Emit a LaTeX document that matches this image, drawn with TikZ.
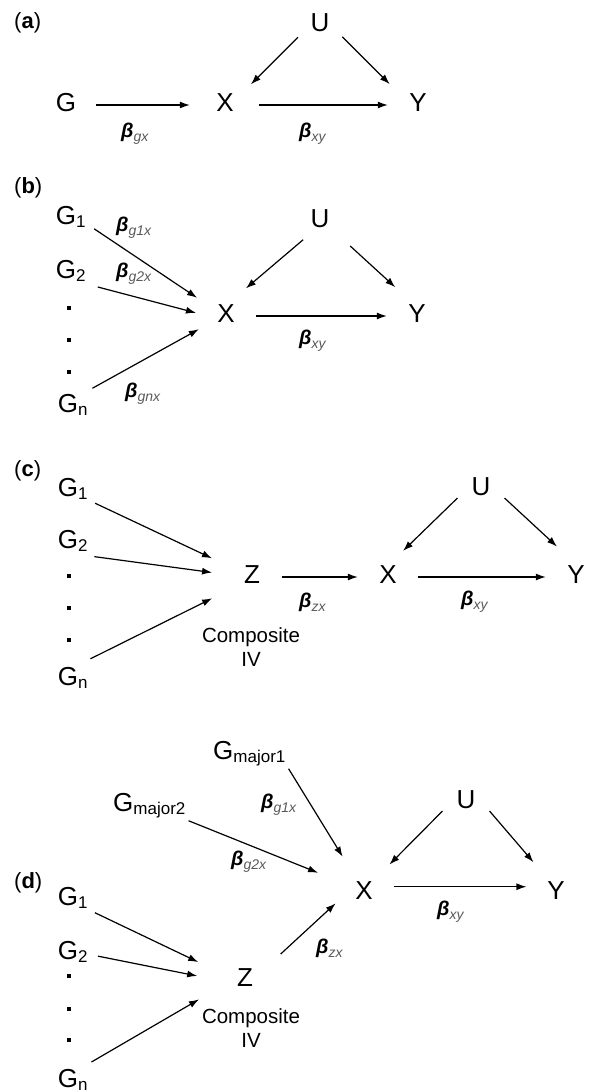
\documentclass[tikz,border=0pt]{standalone}
\usepackage{fontspec}
\setmainfont{Liberation Sans}
\usetikzlibrary{arrows.meta}
\newcommand{\varfont}{\fontsize{26}{30}\selectfont}
\newcommand{\idxfont}{\fontsize{17}{20}\selectfont}
\newcommand{\coeffont}{\fontsize{20}{24}\selectfont\itshape}
\newcommand{\tagfont}{\fontsize{22}{26}\selectfont}
\newcommand{\notefont}{\fontsize{20.5}{23.5}\selectfont}
\newcommand{\gidx}[1]{\rlap{\raisebox{-3pt}{\idxfont #1}}}
\newcommand{\gmaj}[1]{\raisebox{-3pt}{\idxfont #1}}
\newcommand{\coefb}[1]{{\bfseries β}\raisebox{-4pt}{\color{black!65}\fontsize{14}{16}\selectfont #1}}

\begin{document}
\begin{tikzpicture}[
  x=1pt, y=-1pt,
  var/.style={circle, minimum size=60pt, inner sep=0pt, font=\varfont,
              text height=18pt, text depth=5pt},
  conf/.style={var, minimum size=50pt},
  major/.style={rectangle, inner sep=3pt, font=\varfont, anchor=base west},
  coef/.style={anchor=base west, inner sep=0pt, font=\coeffont},
  tag/.style={anchor=base west, inner sep=0pt, font=\tagfont},
  note/.style={align=center, font=\notefont},
  arr/.style={draw, -{Latex[length=10pt,width=7pt]}, line width=1.2pt}
]
\useasboundingbox (0,0) rectangle (591,1092);

% (a)
\node[tag] (ta) at (14,28) {(\textbf{a})};
\node[conf] (aU) at (320,25) {U};
\node[var] (aG) at (66,105) {G};
\node[var] (aX) at (225,105) {X};
\node[var] (aY) at (418,105) {Y};
\node[coef] (aGX) at (121,137) {\coefb{gx}};
\node[coef] (aXY) at (299,137) {\coefb{xy}};
\draw[arr, shorten >=5pt] (aG) -- (aX);
\draw[arr, shorten <=4pt] (aX) -- (aY);
\draw[arr, shorten >=3pt] (aU.209) -- (aX.38);
\draw[arr, shorten >=5pt] (aU.-28) -- (aY.145);

% (b)
\node[tag] (tb) at (14,193) {(\textbf{b})};
\node[var] (bG1) at (66,218) {G\gidx{1}};
\node[var] (bG2) at (66,272) {G\gidx{2}};
\node[var] (bGn) at (68,406) {G\gidx{n}};
\node[var] (bX) at (226,316) {X};
\node[var] (bY) at (417,316) {Y};
\node[conf] (bU) at (320,221) {U};
\node[coef] (bG1X) at (116,231) {\coefb{g1x}};
\node[coef] (bG2X) at (116,277) {\coefb{g2x}};
\node[coef] (bGnX) at (125,397) {\coefb{gnx}};
\node[coef] (bXY) at (299,344) {\coefb{xy}};
\draw[arr, shorten >=4pt] (bG1.-21) -- (bX.148);
\draw[arr, shorten <=5pt] (bG2.-27) -- (bX.174);
\draw[arr] (bGn.36) -- (bX.-154);
\draw[arr] (bX) -- (bY);
\draw[arr, shorten >=4pt] (bU.228) -- (bX.56);
\draw[arr, shorten <=14pt, shorten >=6pt] (bU.-38) -- (bY.125);

% (c)
\node[tag] (tc) at (14,476) {(\textbf{c})};
\node[var] (cG1) at (68,490) {G\gidx{1}};
\node[var] (cG2) at (68,542) {G\gidx{2}};
\node[var] (cGn) at (68,679) {G\gidx{n}};
\node[var] (cZ) at (252,577) {Z};
\node[var] (cX) at (388,577) {X};
\node[var] (cY) at (576,577) {Y};
\node[conf] (cU) at (481,489) {U};
\node[note] (cIV) at (251,647) {Composite\\IV};
\node[coef] (cZX) at (299,607) {\coefb{zx}};
\node[coef] (cXY) at (461,605) {\coefb{xy}};
\draw[arr, shorten >=14pt] (cG1.-26) -- (cZ.155);
\draw[arr, shorten >=10pt] (cG2.-29) -- (cZ.174);
\draw[arr, shorten >=15pt] (cGn.42) -- (cZ.209);
\draw[arr] (cZ) -- (cX);
\draw[arr] (cX) -- (cY);
\draw[arr] (cU.201) -- (cX.60);
\draw[arr, shorten >=6pt] (cU.-21) -- (cY.119);

% (d)
\node[tag] (td) at (14,888) {(\textbf{d})};
\node[major] (dM1) at (210,759) {G\gmaj{major1}};
\node[major] (dM2) at (110,811) {G\gmaj{major2}};
\node[var] (dG1) at (68,899) {G\gidx{1}};
\node[var] (dG2) at (68,953) {G\gidx{2}};
\node[var] (dGn) at (68,1081) {G\gidx{n}};
\node[var] (dZ) at (245,980) {Z};
\node[var] (dX) at (364,893) {X};
\node[var] (dY) at (556,893) {Y};
\node[conf] (dU) at (466,802) {U};
\node[note] (dIV) at (251,1028) {Composite\\IV};
\node[coef] (dM1X) at (261,808) {\coefb{g1x}};
\node[coef] (dM2X) at (231,865) {\coefb{g2x}};
\node[coef] (dXY) at (437,915) {\coefb{xy}};
\node[coef] (dZX) at (316,953) {\coefb{zx}};
\draw[arr, shorten >=12pt] (dM1.south east) -- (dX.120);
\draw[arr, shorten >=20pt] (dM2.south east) -- (dX.155);
\draw[arr, shorten >=8pt] (dU.201) -- (dX.49);
\draw[arr, shorten >=8pt] (dU.-21) -- (dY.125);
\draw[arr] (dX.12) -- (dY.168);
\draw[arr, shorten <=14pt] (dZ.33) -- (dX.200);
\draw[arr, shorten >=20pt] (dG1.-27) -- (dZ.162);
\draw[arr, shorten >=18pt] (dG2.-6) -- (dZ.179);
\draw[arr, shorten >=20pt] (dGn.39) -- (dZ.198);

% dots between G2 and Gn
\foreach \y in {308,340,372,576,608,640,976,1009,1040}
  \fill (67,\y-2) rectangle (71,\y+2);
\end{tikzpicture}
\end{document}
